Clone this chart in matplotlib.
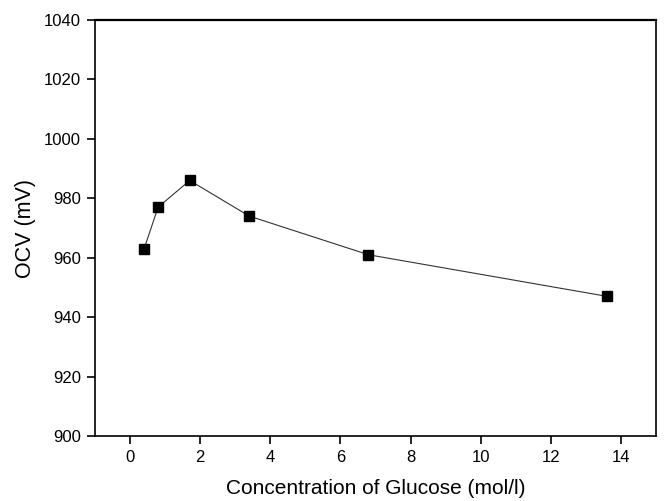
import matplotlib
matplotlib.use("Agg")
import matplotlib.pyplot as plt

# glucose concentration (mol/l) vs open circuit voltage (mV)
concentration = [0.4, 0.8, 1.7, 3.4, 6.8, 13.6]
ocv = [963, 977, 986, 974, 961, 947]

x_ticks = [0, 2, 4, 6, 8, 10, 12, 14]
y_ticks = [900, 920, 940, 960, 980, 1000, 1020, 1040]

plt.rcParams['font.family'] = ['Liberation Sans', 'DejaVu Sans']

fig = plt.figure(figsize=(6.66, 5.01), dpi=100)
ax = fig.add_axes([95 / 666, 1 - 436 / 501, (656 - 95) / 666, (436 - 20) / 501])

ax.plot(concentration, ocv, color='#333333', linewidth=0.8,
        marker='s', markersize=7, markerfacecolor='black', markeredgecolor='black')

ax.set_xlim(-1, 15)
ax.set_ylim(900, 1040)
ax.set_xticks(x_ticks)
ax.set_yticks(y_ticks)
ax.tick_params(axis='both', direction='out', length=6, width=1.2, labelsize=12,
               top=False, right=False, pad=4)

for side in ['left', 'bottom', 'right']:
    ax.spines[side].set_linewidth(1.2)
ax.spines['top'].set_linewidth(1.6)

ax.set_xlabel('Concentration of Glucose (mol/l)', fontsize=15, labelpad=10)
ax.set_ylabel('OCV (mV)', fontsize=15.5, labelpad=6)

fig.savefig('out.png', dpi=100)
